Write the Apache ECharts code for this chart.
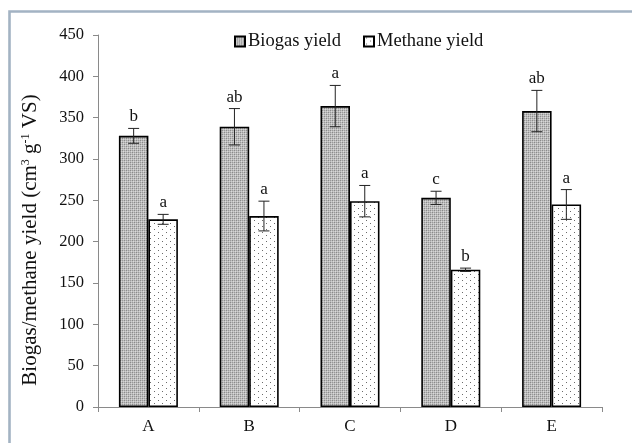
<!DOCTYPE html>
<html>
<head>
<meta charset="utf-8">
<script src="https://cdn.jsdelivr.net/npm/echarts@6/dist/echarts.min.js"></script>
<style>
  html, body { margin: 0; padding: 0; background: #fff; }
  #chart { width: 632px; height: 443px; }
</style>
</head>
<body>
<div id="chart"></div>
<script>
// Treatments and measured yields (cm3 g-1 VS)
const categories = ['A', 'B', 'C', 'D', 'E'];
const biogasYield = [328, 339, 364, 253, 358];
const biogasErr = [9, 22, 25, 8, 25];
const biogasLetters = ['b', 'ab', 'a', 'c', 'ab'];
const methaneYield = [227, 231, 249, 166, 245];
const methaneErr = [6, 18, 19, 2, 18];
const methaneLetters = ['a', 'a', 'a', 'b', 'a'];
const yTicks = [0, 50, 100, 150, 200, 250, 300, 350, 400, 450];

const FONT = '"Liberation Serif", "Times New Roman", serif';
const BAR_W = 29.5;

// Small repeating tiles used as bar fills
function makeTile(w, h, bg, pixels) {
  const c = document.createElement('canvas');
  c.width = w; c.height = h;
  const g = c.getContext('2d');
  g.fillStyle = bg;
  g.fillRect(0, 0, w, h);
  pixels.forEach(([x, y, col]) => { g.fillStyle = col; g.fillRect(x, y, 1, 1); });
  return c;
}
const denseTile = makeTile(4, 4, '#bcbcbc', [
  [0, 0, '#8a8a8a'], [2, 0, '#9a9a9a'], [1, 1, '#dadada'], [3, 1, '#d0d0d0'],
  [0, 2, '#9a9a9a'], [2, 2, '#8a8a8a'], [1, 3, '#d0d0d0'], [3, 3, '#dadada']
]);
const sparseTile = makeTile(8, 6, '#ffffff', [[2, 1, '#6a6a6a'], [6, 4, '#6a6a6a']]);
const denseFill = { image: denseTile, repeat: 'repeat' };
const sparseFill = { image: sparseTile, repeat: 'repeat' };

// Error bar + significance letter drawn over a bar
function errorRenderer(offset) {
  return function (params, api) {
    const idx = api.value(0);
    const v = api.value(1);
    const e = api.value(2);
    const letter = api.value(3);
    const xc = api.coord([idx, 0])[0] + offset;
    const yTop = api.coord([idx, v + e])[1];
    const yBot = api.coord([idx, v - e])[1];
    const cap = 5.5;
    const st = { stroke: '#222', lineWidth: 1 };
    return {
      type: 'group',
      children: [
        { type: 'line', shape: { x1: xc, y1: yTop, x2: xc, y2: yBot }, style: st },
        { type: 'line', shape: { x1: xc - cap, y1: yTop, x2: xc + cap, y2: yTop }, style: st },
        { type: 'line', shape: { x1: xc - cap, y1: yBot, x2: xc + cap, y2: yBot }, style: st },
        {
          type: 'text',
          style: {
            text: letter, x: xc, y: yTop - 3,
            textAlign: 'center', textVerticalAlign: 'bottom',
            font: '17px ' + FONT, fill: '#111'
          }
        }
      ]
    };
  };
}

const chart = echarts.init(document.getElementById('chart'), null, { renderer: 'canvas' });

chart.setOption({
  animation: false,
  backgroundColor: '#ffffff',
  graphic: [{
    type: 'polyline',
    shape: { points: [[9.5, 443], [9.5, 11.5], [632, 11.5]] },
    style: { stroke: '#a3b3c3', lineWidth: 2.6, fill: null },
    silent: true
  }],
  legend: {
    data: ['Biogas yield', 'Methane yield'],
    left: 229,
    top: 27,
    icon: 'rect',
    itemWidth: 10,
    itemHeight: 10,
    itemGap: 22,
    textStyle: { fontFamily: FONT, fontSize: 18.5, color: '#111', padding: [0, 0, 0, -2] }
  },
  grid: { left: 98, top: 35, right: 30, bottom: 36, containLabel: false },
  xAxis: {
    type: 'category',
    data: categories,
    axisLine: { lineStyle: { color: '#8a8a8a', width: 1 } },
    axisTick: { show: true, length: 5, lineStyle: { color: '#8a8a8a' } },
    axisLabel: { fontFamily: FONT, fontSize: 17, color: '#111', margin: 11 }
  },
  yAxis: {
    type: 'value',
    min: yTicks[0],
    max: yTicks[yTicks.length - 1],
    interval: yTicks[1] - yTicks[0],
    name: 'Biogas/methane yield (cm{sup|3} g{sup|-1} VS)',
    nameLocation: 'middle',
    nameGap: 57,
    nameRotate: 90,
    nameTextStyle: {
      fontFamily: FONT, fontSize: 21, color: '#111',
      padding: [0, 38, 0, 0],
      rich: { sup: { fontFamily: FONT, fontSize: 12, verticalAlign: 'top', color: '#111', padding: [0, 0, 9, 0] } }
    },
    axisLine: { show: true, lineStyle: { color: '#8a8a8a', width: 1 } },
    axisTick: { show: true, length: 5, lineStyle: { color: '#8a8a8a' } },
    axisLabel: { fontFamily: FONT, fontSize: 16.5, color: '#111', margin: 14 },
    splitLine: { show: false }
  },
  series: [
    {
      name: 'Biogas yield',
      type: 'bar',
      data: biogasYield,
      barWidth: BAR_W,
      barGap: '0%',
      itemStyle: { color: denseFill, borderColor: '#000', borderWidth: 1.6 }
    },
    {
      name: 'Methane yield',
      type: 'bar',
      data: methaneYield,
      barWidth: BAR_W,
      barGap: '0%',
      itemStyle: { color: sparseFill, borderColor: '#000', borderWidth: 1.6 }
    },
    {
      name: 'biogas-error',
      type: 'custom',
      renderItem: errorRenderer(-BAR_W / 2),
      data: categories.map((c, i) => [i, biogasYield[i], biogasErr[i], biogasLetters[i]]),
      z: 10,
      silent: true
    },
    {
      name: 'methane-error',
      type: 'custom',
      renderItem: errorRenderer(BAR_W / 2),
      data: categories.map((c, i) => [i, methaneYield[i], methaneErr[i], methaneLetters[i]]),
      z: 10,
      silent: true
    }
  ]
});
</script>
</body>
</html>
